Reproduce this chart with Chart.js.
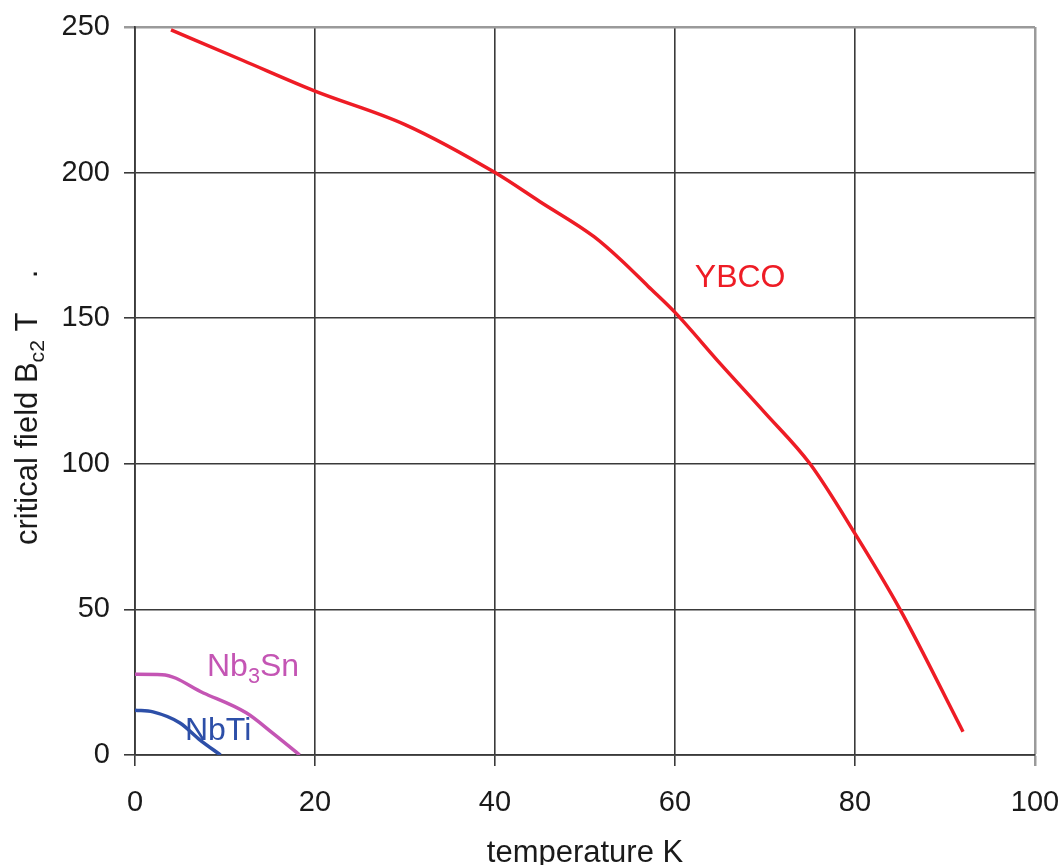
<!DOCTYPE html>
<html>
<head>
<meta charset="utf-8">
<script src="https://cdn.jsdelivr.net/npm/chart.js@4"></script>
<style>
  html, body { margin: 0; padding: 0; background: #fff; }
  #wrap { width: 1064px; height: 865px; position: relative; }
</style>
</head>
<body>
<div id="wrap"><canvas id="chart"></canvas></div>
<script>
// ====== DATA ======
const ybcoT  = [4, 12, 20, 30, 40, 45, 51, 54, 57, 60, 65, 70, 75, 80, 85, 92];
const ybcoB  = [249, 238.5, 228, 216.5, 200, 190, 178, 170, 161, 152, 134.5, 117.5, 100, 76, 50, 8];
const nb3snT = [0, 3, 7.6, 12.4, 15.3, 18.3];
const nb3snB = [27.7, 27.6, 21.3, 14.4, 7.5, 0];
const nbtiT  = [0, 2, 5, 7.2, 9.5];
const nbtiB  = [15.4, 14.8, 11, 5.2, 0];
const xTicks = [0, 20, 40, 60, 80, 100];
const yTicks = [0, 50, 100, 150, 200, 250];

const FONT = "'Liberation Sans', Arial, sans-serif";
const pts = (xs, ys) => xs.map((x, i) => ({ x, y: ys[i] }));

// series labels, placed in data coordinates
const labels = [
  { parts: [["YBCO", 0]], x: 62.2, y: 160.7, color: "#ee1c25" },
  { parts: [["Nb", 0], ["3", 1], ["Sn", 0]], x: 8, y: 27.1, color: "#c455b4" },
  { parts: [["NbTi", 0]], x: 5.55, y: 5.1, color: "#2d4fa8" }
];

function drawParts(ctx, parts, x, y, size) {
  let cx = x;
  parts.forEach(([txt, sub]) => {
    const s = sub ? size * 0.68 : size;
    ctx.font = `${s}px ${FONT}`;
    ctx.fillText(txt, cx, sub ? y + size * 0.22 : y);
    cx += ctx.measureText(txt).width;
  });
}

const textPlugin = {
  id: "texts",
  afterDraw(chart) {
    const ctx = chart.ctx;
    const xs = chart.scales.x, ys = chart.scales.y;
    ctx.save();
    ctx.textBaseline = "alphabetic";
    ctx.textAlign = "left";
    labels.forEach(l => {
      ctx.fillStyle = l.color;
      drawParts(ctx, l.parts, xs.getPixelForValue(l.x), ys.getPixelForValue(l.y), 32);
    });
    // axis titles
    ctx.fillStyle = "#1a1a1a";
    ctx.font = `31px ${FONT}`;
    ctx.textAlign = "center";
    ctx.fillText("temperature K", (xs.left + xs.right) / 2, 862);
    ctx.translate(37, 545);
    ctx.rotate(-Math.PI / 2);
    ctx.textAlign = "left";
    drawParts(ctx, [["critical field B", 0], ["c2", 1], [" T", 0], ["    .", 0]], 0, 0, 31);
    ctx.restore();
  }
};

const gridCol = (edgeVal) => (c) => c.tick && c.tick.value === edgeVal ? "#9a9a9a" : "#3a3a3a";
const gridW = (edgeVal) => (c) => c.tick && c.tick.value === edgeVal ? 2.5 : 1.6;

new Chart(document.getElementById("chart"), {
  type: "scatter",
  data: {
    datasets: [
      { label: "YBCO", data: pts(ybcoT, ybcoB), borderColor: "#ee1c25" },
      { label: "Nb3Sn", data: pts(nb3snT, nb3snB), borderColor: "#c455b4" },
      { label: "NbTi", data: pts(nbtiT, nbtiB), borderColor: "#2d4fa8" }
    ].map(d => ({ ...d, showLine: true, borderWidth: 3.5, pointRadius: 0, cubicInterpolationMode: "monotone", fill: false }))
  },
  options: {
    responsive: true,
    maintainAspectRatio: false,
    animation: false,
    layout: { padding: { top: 27, right: 29, left: 0, bottom: 0 } },
    plugins: { legend: { display: false }, tooltip: { enabled: false } },
    scales: {
      x: {
        type: "linear", min: 0, max: 100,
        afterBuildTicks: s => { s.ticks = xTicks.map(v => ({ value: v })); },
        afterFit: s => { s.height = 110; s.paddingLeft = 0; s.paddingRight = 0; },
        grid: { color: gridCol(100), lineWidth: gridW(100), tickLength: 11, drawTicks: true },
        border: { color: "#3a3a3a", width: 1.8 },
        ticks: { color: "#1a1a1a", font: { family: FONT, size: 29 }, padding: 20, maxRotation: 0 }
      },
      y: {
        type: "linear", min: 0, max: 250,
        afterBuildTicks: s => { s.ticks = yTicks.map(v => ({ value: v })); },
        afterFit: s => { s.width = 135; s.paddingTop = 0; s.paddingBottom = 0; },
        grid: { color: gridCol(250), lineWidth: gridW(250), tickLength: 11, drawTicks: true },
        border: { color: "#3a3a3a", width: 1.8 },
        ticks: { color: "#1a1a1a", font: { family: FONT, size: 29 }, padding: 14 }
      }
    }
  },
  plugins: [textPlugin]
});
</script>
</body>
</html>
